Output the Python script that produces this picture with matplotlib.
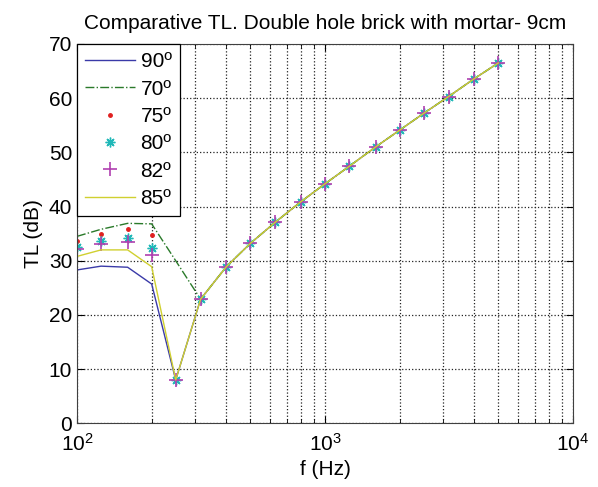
import numpy as np
import matplotlib
matplotlib.use('Agg')
import matplotlib.pyplot as plt
from matplotlib.ticker import LogLocator, NullFormatter

plt.rcParams['font.family'] = ['Liberation Sans', 'DejaVu Sans']
plt.rcParams['mathtext.fontset'] = 'custom'
plt.rcParams['mathtext.rm'] = 'Liberation Sans'

# Third-octave bands (Hz)
freqs = [100, 125, 160, 200, 250, 315, 400, 500, 630, 800,
         1000, 1250, 1600, 2000, 2500, 3150, 4000, 5000]

# Common part above 315 Hz
tl_high = [22.9, 28.9, 33.2, 37.1, 40.9, 44.2, 47.4, 51.0, 54.1, 57.2, 60.3, 63.6, 66.5]

tl_90 = [28.3, 29.0, 28.8, 25.7, 8.0] + tl_high
tl_70 = [34.5, 35.8, 36.9, 36.8, 30.0] + tl_high
tl_75 = [33.7, 35.0, 35.8, 34.8, 8.0] + tl_high
tl_80 = [32.5, 33.7, 34.2, 32.3, 8.0] + tl_high
tl_82 = [32.1, 33.1, 33.5, 31.0, 8.0] + tl_high
tl_85 = [30.8, 32.0, 32.0, 28.9, 8.0] + tl_high

labels = ['90º', '70º', '75º', '80º', '82º', '85º']

fig = plt.figure(figsize=(5.98, 4.87), dpi=100)
ax = fig.add_axes([0.1288, 0.1308, 0.8294, 0.7789])

# asterisk like matlab's '*'
asterisk = (8, 2, 0)

ax.semilogx(freqs, tl_90, '-', color='#3a3aa8', lw=1, label=labels[0])
ax.semilogx(freqs, tl_70, '-.', color='#2a7a2a', lw=1, label=labels[1])
ax.semilogx(freqs, tl_75, '.', color='#e02020', ms=5, label=labels[2])
ax.semilogx(freqs, tl_80, linestyle='none', marker=asterisk, color='#20b8b8',
            ms=7, mew=1, label=labels[3])
ax.semilogx(freqs, tl_82, '+', color='#b040b0', ms=10, mew=1.2, label=labels[4])
ax.semilogx(freqs, tl_85, '-', color='#d0d030', lw=1, label=labels[5])

ax.set_xlim(100, 10000)
ax.set_ylim(0, 70)
ax.set_yticks(np.arange(0, 71, 10))
ax.xaxis.set_major_locator(LogLocator(base=10))
ax.xaxis.set_minor_locator(LogLocator(base=10, subs=np.arange(2, 10)))
ax.xaxis.set_minor_formatter(NullFormatter())

ax.grid(True, which='major', linestyle=':', color='#222222', lw=0.9)
ax.grid(True, which='minor', axis='x', linestyle=':', color='#222222', lw=0.9)

ax.tick_params(which='both', direction='in', top=True, right=True, labelsize=15)
ax.tick_params(which='major', length=5)
ax.tick_params(which='minor', length=3)
ax.tick_params(axis='x', pad=7)
for s in ax.spines.values():
    s.set_color('#404040')

ax.set_title('Comparative TL. Double hole brick with mortar- 9cm', fontsize=15, pad=11)
ax.set_xlabel('f (Hz)', fontsize=15)
ax.set_ylabel('TL (dB)', fontsize=15)

leg = ax.legend(loc='upper left', bbox_to_anchor=(0, 1), borderaxespad=0,
                fontsize=15, fancybox=False, framealpha=1, edgecolor='black',
                handlelength=2.4, handletextpad=0.25, labelspacing=0.4,
                borderpad=0.4)
leg.get_frame().set_linewidth(0.9)

fig.savefig('out.png', dpi=100)
